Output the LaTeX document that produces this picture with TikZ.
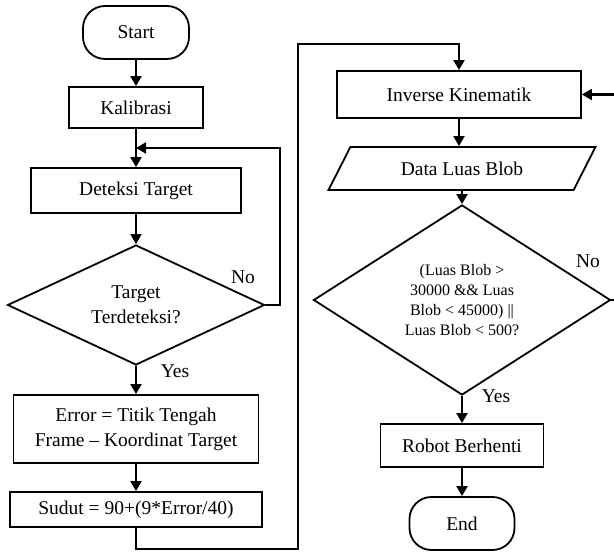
\documentclass[tikz,border=0pt]{standalone}
\usepackage{fontspec}
\setmainfont{Liberation Serif}
\usepackage{tikz}
\usetikzlibrary{shapes.geometric,arrows.meta}

\begin{document}
\begin{tikzpicture}[x=1pt,y=-1pt,
  box/.style={draw,line width=1.8pt,inner sep=2pt,align=center,font=\fontsize{19.5}{25}\selectfont},
  term/.style={box,rounded corners=22pt},
  cond/.style={box,diamond,inner sep=0pt},
  dataio/.style={box,trapezium,trapezium left angle=39,trapezium right angle=141,trapezium stretches body},
  arr/.style={line width=2.1pt,-{Triangle[length=10pt,width=11pt]}},
  lbl/.style={font=\fontsize{19.5}{23}\selectfont}]
  \useasboundingbox (0,0) rectangle (614,553);

  \node[term,minimum width=106,minimum height=53] (start) at (136,32.5) {Start};
  \node[box,minimum width=134,minimum height=41] (kal) at (136,107.5) {Kalibrasi};
  \node[box,minimum width=210,minimum height=45] (det) at (136,190.5) {Deteksi Target};
  \node[cond,minimum width=257,minimum height=120,aspect=2.1] (dec1) at (136,305) {Target\\Terdeteksi?};
  \node[box,minimum width=245,minimum height=68] (err) at (136,429) {Error = Titik Tengah\\Frame -- Koordinat Target};
  \node[box,minimum width=252,minimum height=35] (sudut) at (136,509.5) {Sudut = 90+(9*Error/40)};

  \node[box,minimum width=244,minimum height=47] (ik) at (459,94.5) {Inverse Kinematik};
  \node[dataio,minimum width=267,minimum height=43] (data) at (462,168.5) {Data Luas Blob};
  \node[cond,minimum width=297,minimum height=190,aspect=1.56,font=\fontsize{16}{20}\selectfont] (dec2) at (462,300)
    {(Luas Blob >\\30000 \&\& Luas\\Blob < 45000) ||\\Luas Blob < 500?};
  \node[box,minimum width=163,minimum height=43] (robot) at (462,445.5) {Robot Berhenti};
  \node[term,minimum width=105,minimum height=53] (fin) at (462,523.5) {End};

  \node[lbl] (no1) at (243,277) {No};
  \node[lbl] (yes1) at (175,371) {Yes};
  \node[lbl] (no2) at (588,261) {No};
  \node[lbl] (yes2) at (496,396) {Yes};

  \coordinate (join) at (136,148);
  \coordinate (back1) at (280,305);
  \coordinate (c1) at (298,549);
  \coordinate (c2) at (298,44);
  \coordinate (c3) at (630,300);

  \draw[arr] (start) -- (kal);
  \draw[arr] (kal) -- (det);
  \draw[arr] (det) -- (dec1);
  \draw[arr] (dec1.east) -- (back1) |- (join);
  \draw[arr] (dec1) -- (err);
  \draw[arr] (err) -- (sudut);
  \draw[arr] (sudut.south) |- (c1) -- (c2) -| (ik.north);
  \draw[arr] (ik.south) -- (ik.south |- data.north);
  \draw[arr] (data.south -| dec2.north) -- (dec2.north);
  \draw[arr] (dec2) -- (robot);
  \draw[arr] (robot) -- (fin);
  \draw[arr] (dec2.east) -- (c3) |- (ik.east);
\end{tikzpicture}
\end{document}
